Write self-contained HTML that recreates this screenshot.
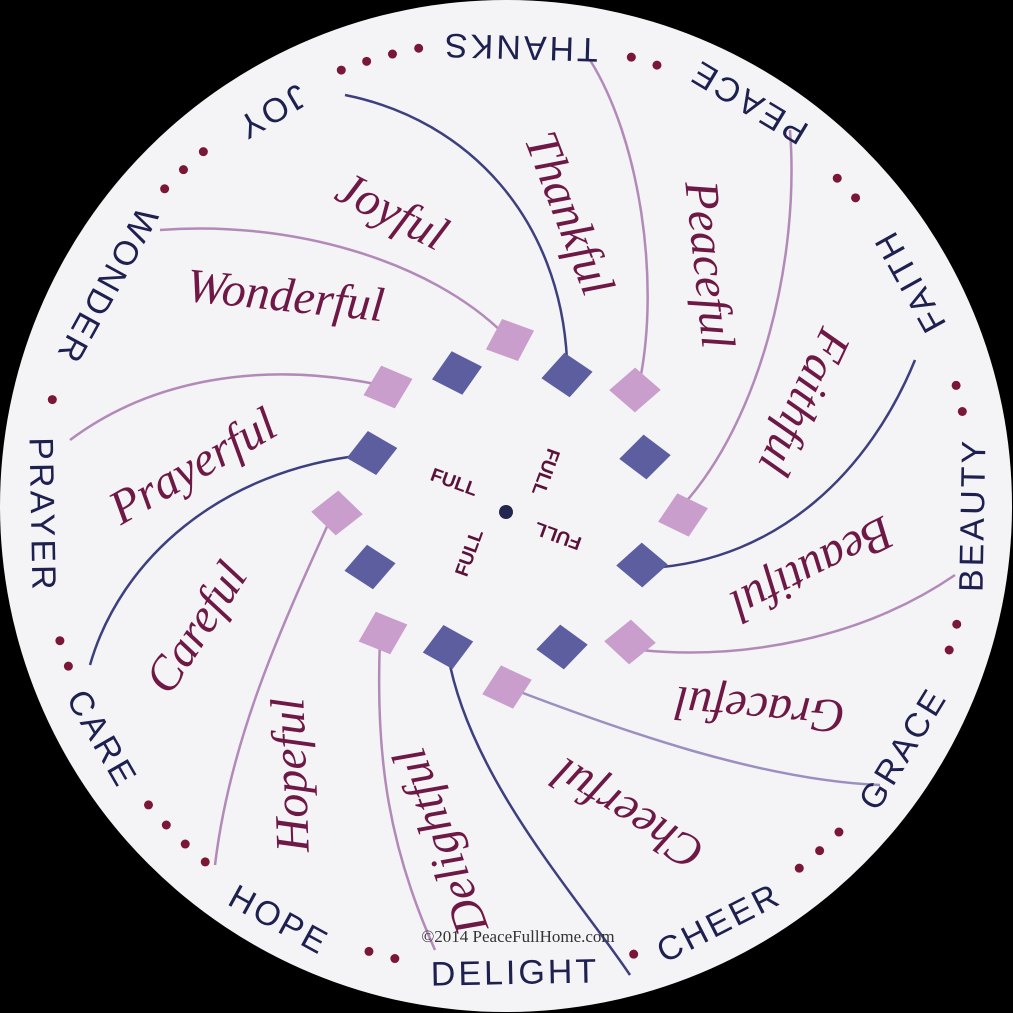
<!DOCTYPE html>
<html><head><meta charset="utf-8"><style>
html,body{margin:0;padding:0;background:#000;}
svg{display:block}
.o{font-family:"Liberation Sans",sans-serif;font-size:34px;fill:#1e2050;letter-spacing:3px}
.c{font-family:"Liberation Serif",serif;font-style:italic;font-size:48px;fill:#6e1846}
.f{font-family:"Liberation Sans",sans-serif;font-weight:bold;font-size:19px;fill:#5a1238}
</style></head><body>
<svg id="s" width="1013" height="1013" viewBox="0 0 1013 1013" xmlns="http://www.w3.org/2000/svg">
<rect width="1013" height="1013" fill="#000"/>
<circle cx="506" cy="506" r="506" fill="#f4f3f6"/>
<g fill="none" stroke-width="2.5">
<path d="M345,95 C470,120 560,220 567,360" stroke="#3d3f7e"/>
<path d="M590,60 C640,140 660,280 640,380" stroke="#b28ab8"/>
<path d="M790,130 C800,260 760,420 683,505" stroke="#b28ab8"/>
<path d="M915,360 C870,470 780,560 650,568" stroke="#3d3f7e"/>
<path d="M955,575 C860,640 740,660 640,650" stroke="#b28ab8"/>
<path d="M880,785 C760,780 620,730 515,690" stroke="#9b8fbf"/>
<path d="M630,975 C580,900 470,780 448,655" stroke="#3d3f7e"/>
<path d="M435,950 C390,850 375,760 380,640" stroke="#b28ab8"/>
<path d="M215,865 C230,740 280,630 330,520" stroke="#b28ab8"/>
<path d="M90,665 C120,560 220,470 365,455" stroke="#3d3f7e"/>
<path d="M70,440 C150,380 260,360 380,385" stroke="#b28ab8"/>
<path d="M160,230 C290,220 430,260 505,335" stroke="#b28ab8"/>
</g>
<circle cx="506" cy="512" r="7" fill="#25264d"/>
<text class="f" transform="translate(452,488) rotate(20)" text-anchor="middle">FULL</text>
<text class="f" transform="translate(540,470) rotate(110)" text-anchor="middle">FULL</text>
<text class="f" transform="translate(560,530) rotate(200)" text-anchor="middle">FULL</text>
<text class="f" transform="translate(475,555) rotate(-70)" text-anchor="middle">FULL</text>
<text x="518" y="942" font-family="Liberation Serif,serif" font-size="17" fill="#333" text-anchor="middle">©2014 PeaceFullHome.com</text>
</svg>
<script>
var ns="http://www.w3.org/2000/svg",s=document.getElementById('s');
function el(t,a,txt){var e=document.createElementNS(ns,t);for(var k in a)e.setAttribute(k,a[k]);if(txt)e.textContent=txt;s.appendChild(e);return e;}
var dm=[[510,340,'p'],[457,373,'b'],[567,375,'b'],[635,390,'p'],[388,387,'p'],[372,453,'b'],[645,457,'b'],[337,513,'p'],[683,515,'p'],[370,567,'b'],[642,565,'b'],[383,633,'p'],[448,647,'b'],[562,647,'b'],[630,642,'p'],[507,687,'p']];
dm.forEach(function(d,i){el('rect',{x:-17,y:-17,width:34,height:34,fill:d[2]=='p'?'#c99dcc':'#5d5ea0',transform:'translate('+d[0]+','+d[1]+') rotate('+(20+i*7%25)+') skewX(-8)'});});
var ow=[["THANKS",520,45],["PEACE",750,100],["FAITH",912,280],["BEAUTY",975,515],["GRACE",905,750],["CHEER",720,925],["DELIGHT",515,975],["HOPE",278,922],["CARE",100,740],["PRAYER",40,515],["WONDER",105,285],["JOY",270,110]];
var ang=[];
ow.forEach(function(w){var p=Math.atan2(w[2]-506,w[1]-506)*180/Math.PI;ang.push([p,w[0].length*1.5+3.5]);
el('text',{'class':'o','text-anchor':'middle','dominant-baseline':'middle',transform:'translate('+w[1]+','+w[2]+') rotate('+(p-90)+')'},w[0]);});
for(var a=-180;a<180;a+=3.3){var ok=true;ang.forEach(function(q){var d=Math.abs(((a-q[0]+540)%360)-180);if(d<q[1])ok=false;});
if(ok){var r=a*Math.PI/180;el('circle',{cx:506+466*Math.cos(r),cy:506+466*Math.sin(r),r:4.5,fill:'#7a1636'});}}
var cw=[["Thankful",565,215,69],["Peaceful",705,265,84],["Faithful",800,400,115],["Beautiful",810,565,153],["Graceful",760,705,185],["Cheerful",630,810,212],["Delightful",445,840,250],["Hopeful",295,775,268],["Careful",200,630,303],["Prayerful",195,470,330],["Wonderful",285,300,6],["Joyful",390,215,27]];
cw.forEach(function(w){el('text',{'class':'c','text-anchor':'middle','dominant-baseline':'middle',transform:'translate('+w[1]+','+w[2]+') rotate('+w[3]+')'},w[0]);});
</script>
</body></html>
